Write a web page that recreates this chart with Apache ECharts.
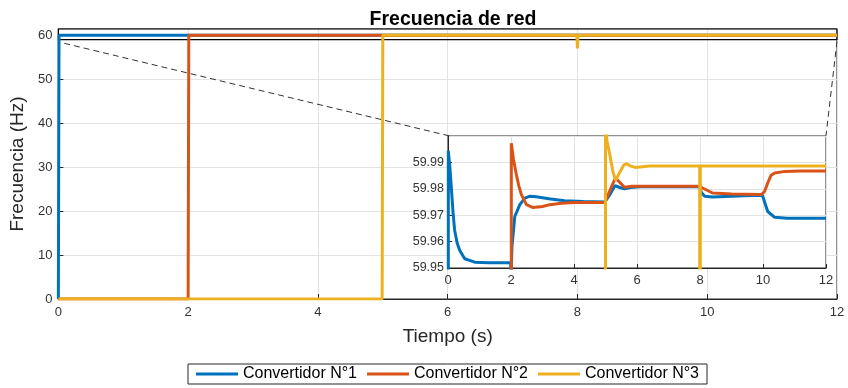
<!DOCTYPE html>
<html>
<head>
<meta charset="utf-8">
<script src="https://cdn.jsdelivr.net/npm/echarts@6/dist/echarts.min.js"></script>
<style>
html, body { margin: 0; padding: 0; background: #fff; }
#chart { width: 848px; height: 388px; }
</style>
</head>
<body>
<div id="chart"></div>
<script>
// datos
const nombres = ['Convertidor N°1', 'Convertidor N°2', 'Convertidor N°3'];
const colores = ['#0072BD', '#D95319', '#EDB120'];

const tiempo1 = [0, 0.01, 0.06, 0.11, 0.16, 0.21, 0.29, 0.37, 0.53, 0.85, 1.3, 1.99,
    2.0, 2.03, 2.12, 2.28, 2.44, 2.6, 2.8, 3.2, 3.7, 4.3, 4.98,
    5.03, 5.15, 5.3, 5.45, 5.6, 5.8, 6.1, 7.0, 7.98,
    8.05, 8.15, 8.4, 8.8, 9.4, 9.98, 10.05, 10.15, 10.37, 10.77, 11.5, 12];
const frec1 = [0, 59.9944, 59.988, 59.9797, 59.971, 59.9644, 59.9595, 59.9567, 59.9535, 59.9522, 59.952, 59.952,
    59.945, 59.958, 59.9695, 59.974, 59.9765, 59.9772, 59.977, 59.9762, 59.9755, 59.9752, 59.975,
    59.9745, 59.978, 59.9812, 59.9805, 59.98, 59.9805, 59.9808, 59.9808, 59.9808,
    59.9785, 59.9772, 59.9769, 59.9771, 59.9774, 59.9776, 59.975, 59.9714, 59.9692, 59.9688, 59.9688, 59.9688];

const tiempo2 = [0, 2.0, 2.01, 2.08, 2.17, 2.25, 2.33, 2.49, 2.7, 3.0, 3.23, 3.6, 4.0, 4.98,
    5.03, 5.2, 5.31, 5.45, 5.6, 5.84, 6.2, 7.98,
    8.08, 8.4, 9.0, 9.95, 10.05, 10.15, 10.25, 10.37, 10.7, 11.2, 12];
const frec2 = [0, 0, 59.9973, 59.991, 59.9854, 59.981, 59.9778, 59.974, 59.9729, 59.9733, 59.974, 59.9745, 59.9748, 59.9748,
    59.9752, 59.981, 59.984, 59.9825, 59.9806, 59.981, 59.981, 59.981,
    59.9803, 59.9784, 59.978, 59.9778, 59.979, 59.9822, 59.985, 59.986, 59.9866, 59.9867, 59.9867];

const tiempo3 = [0, 4.99, 5.0, 5.05, 5.14, 5.24, 5.32, 5.45, 5.58, 5.67, 5.8, 5.95, 6.4, 7.99, 8.0, 8.01, 12];
const frec3 = [0, 0, 60.003, 59.998, 59.9927, 59.9863, 59.9832, 59.9862, 59.989, 59.9895, 59.9886, 59.9881, 59.9886, 59.9886, 57.0, 59.9886, 59.9886];

const tiempos = [tiempo1, tiempo2, tiempo3];
const frecs = [frec1, frec2, frec3];

function pares(t, v) {
    return t.map(function (x, i) { return [x, v[i]]; });
}

let chart = echarts.init(document.getElementById('chart'));

const txt = '#262626';
const rejilla = '#e3e3e3';

let series = [];
// grafico principal
for (let i = 0; i < 3; i++) {
    let s = {
        name: nombres[i],
        type: 'line',
        xAxisIndex: 0,
        yAxisIndex: 0,
        data: pares(tiempos[i], frecs[i]),
        showSymbol: false,
        symbol: 'none',
        lineStyle: { width: 3, color: colores[i] },
        itemStyle: { color: colores[i] },
        z: 2
    };
    if (i === 2) {
        // recuadro de zoom y lineas de union
        s.markArea = {
            silent: true,
            itemStyle: { color: 'rgba(0,0,0,0)', borderColor: '#000', borderWidth: 1.2 },
            data: [[{ coord: [0, 59] }, { coord: [12, 61.4] }]]
        };
        s.markLine = {
            silent: true,
            symbol: 'none',
            label: { show: false },
            lineStyle: { type: [6, 4], color: '#333', width: 1 },
            data: [
                [{ coord: [0.09, 58.15] }, { coord: [6.03, 37.07] }],
                [{ coord: [12, 58.6] }, { coord: [11.83, 37.1] }]
            ]
        };
    }
    series.push(s);
}
// recuadro ampliado
for (let i = 0; i < 3; i++) {
    series.push({
        name: nombres[i],
        type: 'line',
        xAxisIndex: 1,
        yAxisIndex: 1,
        data: pares(tiempos[i], frecs[i]),
        showSymbol: false,
        symbol: 'none',
        clip: true,
        lineStyle: { width: 3, color: colores[i] },
        itemStyle: { color: colores[i] },
        z: 5
    });
}

chart.setOption({
    animation: false,
    color: colores,
    title: {
        text: 'Frecuencia de red',
        left: 448,
        top: 5,
        textAlign: 'center',
        textStyle: { fontFamily: 'Liberation Sans', fontSize: 19.5, fontWeight: 'bold', color: '#000' }
    },
    legend: {
        data: nombres,
        left: 188,
        top: 364,
        icon: 'rect',
        itemWidth: 42,
        itemHeight: 3,
        itemGap: 10,
        padding: [2, 8],
        borderColor: '#262626',
        borderWidth: 1,
        backgroundColor: '#fff',
        textStyle: { fontFamily: 'Liberation Sans', fontSize: 16, color: '#000' }
    },
    grid: [
        { left: 56, right: 11, top: 29, bottom: 89, show: true, backgroundColor: 'rgba(0,0,0,0)', borderColor: txt, borderWidth: 1 },
        { left: 448, right: 22, top: 136, bottom: 120, show: true, backgroundColor: '#fff', borderColor: txt, borderWidth: 1, z: 1 }
    ],
    xAxis: [
        {
            type: 'value', gridIndex: 0, min: 0, max: 12, interval: 2,
            name: 'Tiempo (s)', nameLocation: 'middle', nameGap: 28,
            nameTextStyle: { fontFamily: 'Liberation Sans', fontSize: 19, color: txt },
            axisLine: { lineStyle: { color: txt } },
            axisTick: { inside: true, length: 5, lineStyle: { color: txt } },
            axisLabel: { fontFamily: 'Liberation Sans', fontSize: 13, color: '#333', margin: 7 },
            splitLine: { show: true, lineStyle: { color: rejilla } }
        },
        {
            type: 'value', gridIndex: 1, min: 0, max: 12, interval: 2, z: 1,
            axisLine: { lineStyle: { color: txt } },
            axisTick: { inside: true, length: 4, lineStyle: { color: txt } },
            axisLabel: { fontFamily: 'Liberation Sans', fontSize: 13, color: '#333', margin: 6 },
            splitLine: { show: true, lineStyle: { color: rejilla } }
        }
    ],
    yAxis: [
        {
            type: 'value', gridIndex: 0, min: 0, max: 61.4, interval: 10,
            name: 'Frecuencia (Hz)', nameLocation: 'middle', nameGap: 26,
            nameTextStyle: { fontFamily: 'Liberation Sans', fontSize: 19, color: txt },
            axisLine: { show: true, lineStyle: { color: txt } },
            axisTick: { show: true, inside: true, length: 5, lineStyle: { color: txt } },
            axisLabel: { fontFamily: 'Liberation Sans', fontSize: 13, color: '#333', margin: 6, showMaxLabel: false },
            splitLine: { show: true, lineStyle: { color: rejilla } }
        },
        {
            type: 'value', gridIndex: 1, min: 59.95, max: 60, interval: 0.01, z: 1,
            axisLine: { show: true, lineStyle: { color: txt } },
            axisTick: { show: true, inside: true, length: 4, lineStyle: { color: txt } },
            axisLabel: {
                fontFamily: 'Liberation Sans', fontSize: 12.5, color: '#333', margin: 4, showMaxLabel: false,
                formatter: function (v) { return v.toFixed(2); }
            },
            splitLine: { show: true, lineStyle: { color: rejilla } }
        }
    ],
    series: series
});
</script>
</body>
</html>
